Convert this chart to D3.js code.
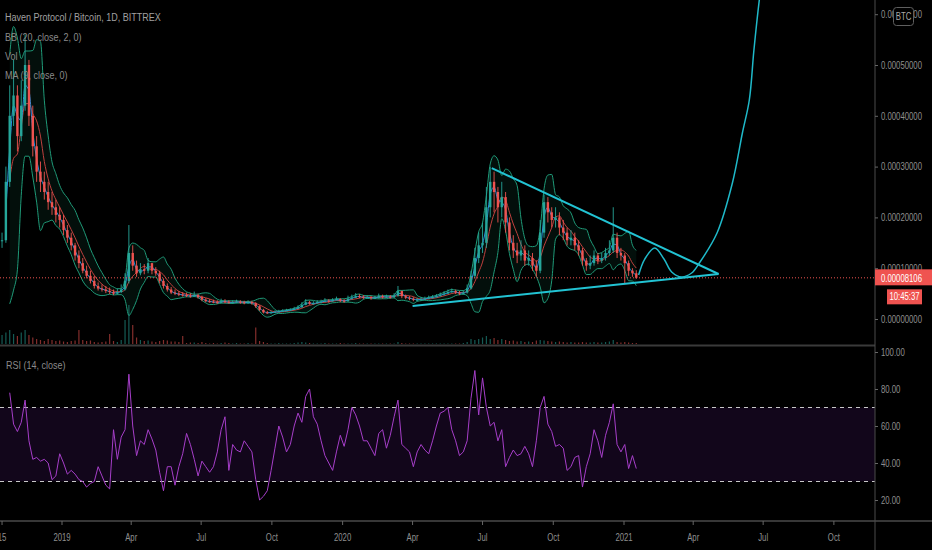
<!DOCTYPE html>
<html><head><meta charset="utf-8">
<script src="https://cdn.jsdelivr.net/npm/d3@7"></script>
<style>html,body{margin:0;padding:0;background:#000;overflow:hidden}</style>
</head><body><svg id="c" width="932" height="550"></svg>
<script>
// ---------- DATA (prices in satoshi, 1 sat = 0.00000001 BTC) ----------
const startDate = "2018-10-15";
const stepDays = 5;
const closes = [15500,27000,40000,44000,36000,42000,50000,40000,34000,29000,
27000,25000,23000,22000,20500,19500,17500,16000,14500,12500,
11000,9500,8500,7500,6500,6000,5800,5500,5300,5000,
5300,5800,7500,13000,10500,9000,9800,9500,11000,9500,
9000,7500,6500,5800,5200,5000,4800,4700,4600,4500,
4700,4300,3800,3500,3400,3300,3200,3500,3400,3200,
3300,3400,3300,3200,3300,3100,2500,1800,1300,1200,
1300,1400,1500,1600,1700,1800,2000,2300,2800,3300,
3000,3100,3300,3400,3600,3500,3700,3900,3600,3500,
4000,4200,4500,4400,4200,4300,4100,4200,4500,4300,
4400,4300,4600,5500,4500,4200,4000,3800,3800,3900,
4000,4200,4300,4500,4800,5000,5300,5500,5200,5000,
5200,6000,8500,12000,14500,15000,22000,27000,25000,22000,
24000,19000,15000,13500,12500,13500,11500,12000,10500,9500,
17000,23000,21000,19500,20000,18000,17000,15500,16000,14500,
13500,11500,10500,11000,12500,11500,12000,13000,13500,16000,
13000,12500,11000,9500,9000,8106];
const highs = [17000,30000,46000,51000,46000,47000,56000,51000,42000,36000,
31000,29000,27000,25000,23500,22000,20500,18500,17000,15000,
13500,12000,10500,9500,8500,7200,6800,6500,6200,5800,
6000,6800,9000,18500,14500,11500,11000,10800,12000,11000,
10200,9500,8000,7000,6300,5800,5500,5300,5200,5100,
5400,5000,4600,4100,3900,3800,3700,4000,3900,3700,
3700,3800,3700,3600,3700,3600,3300,2700,2000,1600,
1600,1700,1800,1900,2000,2100,2400,2700,3300,3900,
3600,3500,3700,3800,4100,3900,4100,4400,4100,3900,
4600,4800,5100,4900,4700,4700,4500,4600,5000,4800,
4800,4700,5100,6500,5600,4800,4500,4300,4200,4300,
4400,4600,4700,4900,5200,5500,5800,6000,5800,5500,
5600,6800,9500,14000,17000,19000,26000,30000,29000,26000,
27000,25000,20000,16500,15000,15500,14500,13500,13000,11500,
19500,24500,24000,22000,22000,21000,19500,18000,17500,17000,
15500,14000,12000,12500,13500,13000,13000,14000,15500,22000,
17000,14000,13000,11500,10000,9600];
const lows = [14000,15000,26000,38000,33000,35000,41000,38000,32000,27000,
25000,23500,21500,20500,19000,18000,16500,15000,13500,11500,
10000,9000,8000,7000,6000,5600,5400,5100,4900,4700,
4800,5100,5600,7000,9500,8300,8600,8800,9000,8800,
8500,7000,6000,5400,4900,4700,4500,4400,4300,4200,
4300,4000,3500,3300,3200,3100,3000,3100,3100,3000,
3000,3100,3000,2900,3000,2800,2200,1600,1100,1000,
1100,1200,1300,1400,1500,1600,1800,2000,2200,2700,
2800,2800,3000,3100,3300,3200,3400,3600,3300,3200,
3400,3800,4100,4100,3900,4000,3800,3900,4000,4000,
4100,4000,4100,4400,4100,3900,3700,3500,3500,3600,
3700,3900,4000,4200,4400,4600,4900,5100,4900,4700,
4800,5000,5800,8000,11000,13000,14000,20000,21000,19000,
20000,17000,13500,12000,11000,11500,10500,10500,9500,8300,
9000,16000,19000,18000,18000,16500,15500,14500,14500,13500,
12500,10500,9500,9800,10500,10800,11000,11500,12500,13000,
12000,11500,7000,8500,8300,7900];
const volumes = [20,25,30,22,18,25,30,20,15,12,
10,8,12,10,8,9,7,6,8,9,
30,10,8,9,6,5,6,7,22,8,
6,10,50,80,40,15,10,8,9,7,
6,8,10,9,7,7,6,18,4,5,
5,4,6,4,3,4,3,4,5,4,
3,4,3,3,4,3,35,8,6,4,
3,3,4,3,3,3,4,5,6,5,
4,3,3,3,4,3,3,3,4,3,
3,3,4,3,3,3,3,3,3,3,
3,3,3,6,4,3,3,3,3,3,
3,3,3,3,3,3,3,3,3,3,
4,6,12,10,12,15,18,12,14,10,
12,10,8,9,7,8,6,7,6,9,
10,9,8,7,6,7,6,5,6,5,
5,6,5,5,6,5,5,6,7,10,
6,5,6,5,4,4];
const rsi = [null,null,78,61,57,62,74,52,42,43,
41,42,40,31,33,45,40,34,36,34,
31,30,27,29,30,38,33,28,26,58,
42,54,58,88,60,44,52,50,58,53,
47,35,25,38,38,28,38,45,56,50,
42,33,41,38,35,38,46,58,65,36,
50,47,46,52,49,46,31,20,22,25,
36,48,60,54,46,50,60,67,62,76,
80,65,61,52,44,40,36,46,55,49,
58,70,66,60,52,52,48,44,56,58,
48,55,65,74,50,48,46,38,46,50,
47,45,52,60,67,68,70,58,52,44,
46,52,75,90,66,86,70,60,62,52,
58,38,43,47,44,45,49,45,38,52,
70,76,61,57,49,50,48,36,38,43,
44,27,38,45,58,52,43,55,62,72,
50,46,50,37,44,37];
const priceTicks = [0, 0.0001, 0.0002, 0.0003, 0.0004, 0.0005, 0.0006];
const rsiTicks = [20, 40, 60, 80, 100];
const rsiBands = [30, 70];
const timeTickDates = ["2018-10-15","2019-01-01","2019-04-01","2019-07-01","2019-10-01","2020-01-01","2020-04-01","2020-07-01","2020-10-01","2021-01-01","2021-04-01","2021-07-01","2021-10-01"];
const timeTickLabels = ["15","2019","Apr","Jul","Oct","2020","Apr","Jul","Oct","2021","Apr","Jul","Oct"];
const upperTrend = [["2020-07-13", 29700], ["2021-05-04", 8860]];
const lowerTrend = [["2020-04-01", 2560], ["2021-05-04", 8860]];
const projection = [["2021-01-20",8660],["2021-01-28",11800],["2021-02-10",13980],["2021-02-22",11800],["2021-03-04",9250],["2021-03-17",8270],["2021-03-30",9050],["2021-04-09",11020],["2021-05-02",16930],["2021-05-22",26770],["2021-06-04",36610],["2021-06-13",43110],["2021-06-19",52950],["2021-06-26",62800],["2021-07-03",70660]];
const lastPrice = 8106;
const countdown = "10:45:37";
const titleText = "Haven Protocol / Bitcoin, 1D, BITTREX";
const legendTexts = ["BB (20, close, 2, 0)", "Vol", "MA (9, close, 0)"];
const rsiTitle = "RSI (14, close)";
const currency = "BTC";

// ---------- RENDER ----------
const W = 932, H = 550, AX = 875;
const SAT = 1e-8;
const FONT = "'Liberation Sans', Arial, sans-serif";
const SX = 0.74;
const svg = d3.select("#c");
svg.append("rect").attr("width", W).attr("height", H).attr("fill", "#000");

const x = d3.scaleUtc().domain([new Date("2019-01-01"), new Date("2021-01-01")]).range([62, 624]);
const y = d3.scaleLinear().domain([0, 0.0006]).range([319, 14.2]);
const yR = d3.scaleLinear().domain([0, 100]).range([537, 352]);
const yV = d3.scaleLinear().domain([0, 80]).range([345, 305]);
const t0 = Date.parse(startDate);
const dateAt = i => new Date(t0 + i * stepDays * 864e5);
const px = s => y(s * SAT);

const defs = svg.append("defs");
defs.append("clipPath").attr("id", "pc").append("rect").attr("x", 0).attr("y", 0).attr("width", AX).attr("height", 344);
defs.append("clipPath").attr("id", "rc").append("rect").attr("x", 0).attr("y", 347).attr("width", AX).attr("height", 173);

const pane = svg.append("g").attr("clip-path", "url(#pc)");

// Bollinger bands (window of 5 samples) and short MA
const BBW = 5;
const bb = [];
closes.forEach((c, i) => {
  const w = d3.range(Math.max(0, i - BBW + 1), i + 1);
  if (w.length < 3) return;
  const vals = w.map(j => closes[j]);
  const mean = d3.mean(vals);
  const sd = d3.deviation(vals);
  bb.push({ i, mean, up: mean + 2 * sd, lo: mean - 2 * sd });
});
const ma = closes.map((c, i) => i < 1 ? null : { i, v: (closes[i] + closes[i - 1]) / 2 }).filter(d => d);

pane.append("path").datum(bb)
  .attr("d", d3.area().x(d => x(dateAt(d.i))).y0(d => px(d.lo)).y1(d => px(d.up)).curve(d3.curveMonotoneX))
  .attr("fill", "rgba(30,150,110,0.10)");
["up", "lo"].forEach(k => {
  pane.append("path").datum(bb)
    .attr("d", d3.line().x(d => x(dateAt(d.i))).y(d => px(d[k])).curve(d3.curveMonotoneX))
    .attr("fill", "none").attr("stroke", "#1f9a78").attr("stroke-width", 1);
});
pane.append("path").datum(bb)
  .attr("d", d3.line().x(d => x(dateAt(d.i))).y(d => px(d.mean)).curve(d3.curveMonotoneX))
  .attr("fill", "none").attr("stroke", "#c0403e").attr("stroke-width", 1);
pane.append("path").datum(ma)
  .attr("d", d3.line().x(d => x(dateAt(d.i))).y(d => px(d.v)).curve(d3.curveMonotoneX))
  .attr("fill", "none").attr("stroke", "#2a8fe0").attr("stroke-width", 1);

// volume
pane.selectAll("rect.vol").data(volumes).join("rect").attr("class", "vol")
  .attr("x", (v, i) => x(dateAt(i)) - 0.6).attr("width", 1.2)
  .attr("y", v => yV(v)).attr("height", v => 345 - yV(v))
  .attr("fill", (v, i) => closes[i] >= (i ? closes[i - 1] : closes[i]) ? "rgba(38,166,154,0.55)" : "rgba(239,83,80,0.55)");

// candles
const cg = pane.append("g");
closes.forEach((c, i) => {
  const o = i ? closes[i - 1] : c;
  const up = c >= o;
  const col = up ? "#26a69a" : "#ef5350";
  const cx = x(dateAt(i));
  cg.append("line").attr("x1", cx).attr("x2", cx).attr("y1", px(highs[i])).attr("y2", px(lows[i]))
    .attr("stroke", col).attr("stroke-width", 0.9);
  const yt = px(Math.max(o, c)), yb = px(Math.min(o, c));
  cg.append("rect").attr("x", cx - 1.2).attr("width", 2.4).attr("y", yt).attr("height", Math.max(1, yb - yt)).attr("fill", col);
});

// current price dotted line
pane.append("line").attr("x1", 0).attr("x2", AX).attr("y1", px(lastPrice)).attr("y2", px(lastPrice))
  .attr("stroke", "#ef5350").attr("stroke-width", 1).attr("stroke-dasharray", "1,2");

// trend lines and projection
const tl = d3.line().x(d => x(new Date(d[0]))).y(d => px(d[1]));
[upperTrend, lowerTrend].forEach(t => pane.append("path").attr("d", tl(t)).attr("fill", "none").attr("stroke", "#22c3d3").attr("stroke-width", 2));
pane.append("path").attr("d", tl.curve(d3.curveCatmullRom.alpha(0.5))(projection)).attr("fill", "none").attr("stroke", "#1fb9c9").attr("stroke-width", 1.5);

// RSI pane
const rp = svg.append("g").attr("clip-path", "url(#rc)");
rp.append("rect").attr("x", 0).attr("width", AX).attr("y", yR(rsiBands[1])).attr("height", yR(rsiBands[0]) - yR(rsiBands[1])).attr("fill", "rgba(120,40,180,0.15)");
rsiBands.forEach(b => rp.append("line").attr("x1", 0).attr("x2", AX).attr("y1", yR(b)).attr("y2", yR(b))
  .attr("stroke", "#c8c8c8").attr("stroke-width", 1).attr("stroke-dasharray", "4,4"));
rp.append("path").datum(rsi)
  .attr("d", d3.line().defined(v => v != null).x((v, i) => x(dateAt(i))).y(v => yR(v)))
  .attr("fill", "none").attr("stroke", "#a63ec9").attr("stroke-width", 1);

// frame lines
svg.append("line").attr("x1", 0).attr("x2", AX).attr("y1", 345.5).attr("y2", 345.5).attr("stroke", "#3a3a3a").attr("stroke-width", 2);
svg.append("line").attr("x1", 0).attr("x2", W).attr("y1", 521).attr("y2", 521).attr("stroke", "#4a4a4a").attr("stroke-width", 1.5);
svg.append("line").attr("x1", AX).attr("x2", AX).attr("y1", 0).attr("y2", H).attr("stroke", "#4a4a4a").attr("stroke-width", 1);

// axes
function styleAxis(g) {
  g.select(".domain").remove();
  g.selectAll("line").attr("stroke", "#666");
  g.selectAll("text").attr("fill", "#8f8f8f").attr("font-size", "10.5px").attr("font-family", FONT)
    .attr("x", 6 / SX).attr("transform", `scale(${SX},1)`);
}
svg.append("g").attr("transform", `translate(${AX},0)`)
  .call(d3.axisRight(y).tickValues(priceTicks).tickSize(3).tickFormat(d3.format(".8f"))).call(styleAxis);
svg.append("g").attr("transform", `translate(${AX},0)`)
  .call(d3.axisRight(yR).tickValues(rsiTicks).tickSize(3).tickFormat(d3.format(".2f"))).call(styleAxis);

const tg = svg.append("g");
timeTickDates.forEach((d, k) => {
  const tx = x(new Date(d));
  tg.append("line").attr("x1", tx).attr("x2", tx).attr("y1", 521).attr("y2", 525).attr("stroke", "#666");
  tg.append("text").attr("transform", `translate(${tx},541) scale(${SX},1)`).attr("text-anchor", "middle")
    .attr("fill", "#8f8f8f").attr("font-size", "10.5px").attr("font-family", FONT).text(timeTickLabels[k]);
});

// labels
function label(s, tx, ty, fill, size, sx, anchor) {
  return svg.append("text").attr("transform", `translate(${tx},${ty}) scale(${sx},1)`).attr("text-anchor", anchor || "start")
    .attr("fill", fill).attr("font-size", size + "px").attr("font-family", FONT).text(s);
}
label(titleText, 5, 21, "#a0a0a0", 11, 0.82);
legendTexts.forEach((s, k) => label(s, 5, 41 + k * 19, "#8a8a8a", 11, 0.82));
label(rsiTitle, 6, 369, "#8a8a8a", 11, 0.82);

// BTC box
svg.append("rect").attr("x", 893.5).attr("y", 7.5).attr("width", 20).attr("height", 18).attr("rx", 3)
  .attr("fill", "#000").attr("stroke", "#5f5f5f");
label(currency, 903.5, 20, "#a8a8a8", 10, 0.78, "middle");

// last price labels
const ly = px(lastPrice);
svg.append("rect").attr("x", AX).attr("y", ly - 8.5).attr("width", W - AX).attr("height", 16).attr("fill", "#ef5350");
label(d3.format(".8f")(lastPrice * SAT), 881, ly + 3.8, "#fff", 10.5, SX);
svg.append("rect").attr("x", 887).attr("y", ly + 11.5).attr("width", 35).attr("height", 15).attr("fill", "#ef5350");
label(countdown, 904.5, ly + 22.5, "#fff", 10.5, SX, "middle");
</script></body></html>
